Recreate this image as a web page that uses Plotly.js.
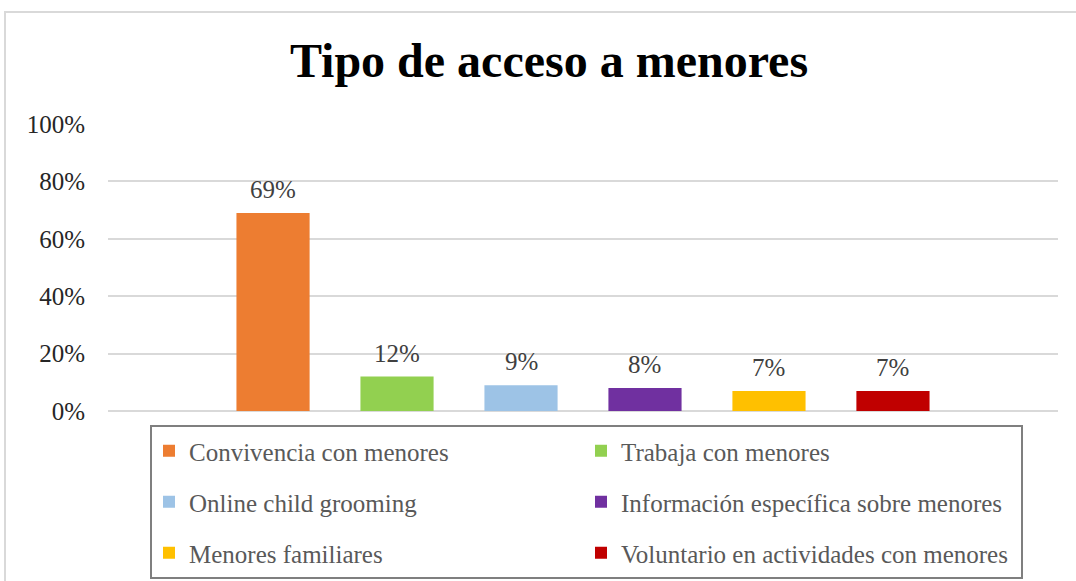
<!DOCTYPE html>
<html>
<head>
<meta charset="utf-8">
<script src="https://cdn.plot.ly/plotly-3.0.1.min.js"></script>
<style>
  body { margin: 0; overflow: hidden; background: #fff; }
  #graph { position: absolute; left: 0; top: 0; width: 1076px; height: 581px; }
  #frame { position: absolute; left: 4px; top: 11px; width: 1200px; height: 700px;
           border: 2px solid #d9d9d9; pointer-events: none; }
</style>
</head>
<body>
<div id="frame"></div>
<div id="graph"></div>
<script>
// data
var categories = [
  "Convivencia con menores",
  "Trabaja con menores",
  "Online child grooming",
  "Información específica sobre menores",
  "Menores familiares",
  "Voluntario en actividades con menores"
];
var shares = [0.69, 0.12, 0.09, 0.08, 0.07, 0.07];
var colors = ["#ED7D31", "#92D050", "#9DC3E6", "#7030A0", "#FFC000", "#C00000"];
// which legend row each series goes in (2 per row)
var legendRows = ["legend", "legend", "legend2", "legend2", "legend3", "legend3"];

var serif = "Liberation Serif, Times New Roman, serif";

var traces = [];
var notes = [];
for (var i = 0; i < categories.length; i++) {
  traces.push({
    type: "bar",
    x: [categories[i]],
    y: [shares[i]],
    name: categories[i],
    width: 0.59,
    marker: { color: colors[i] },
    legend: legendRows[i],
    hoverinfo: "none"
  });
  notes.push({
    x: categories[i],
    y: shares[i],
    text: Math.round(shares[i] * 100) + "%",
    showarrow: false,
    yanchor: "bottom",
    yshift: 8,
    font: { family: serif, size: 25, color: "#404040" }
  });
}

function legendAt(yPix) {
  return {
    orientation: "h",
    xref: "container", yref: "container",
    x: 149 / 1076, xanchor: "left",
    y: 1 - yPix / 581, yanchor: "middle",
    entrywidth: 387,
    entrywidthmode: "pixels",
    bgcolor: "rgba(0,0,0,0)",
    borderwidth: 0,
    font: { family: serif, size: 25, color: "#595959" }
  };
}

var layout = {
  width: 1076,
  height: 581,
  paper_bgcolor: "rgba(0,0,0,0)",
  plot_bgcolor: "rgba(0,0,0,0)",
  margin: { l: 108, r: 18, t: 124, b: 170 },
  title: {
    text: "<b>Tipo de acceso a menores</b>",
    xref: "container", yref: "container",
    x: 549 / 1076, xanchor: "center",
    y: 1 - 60 / 581, yanchor: "middle",
    font: { family: serif, size: 48, color: "#000000" }
  },
  barmode: "overlay",
  xaxis: {
    type: "category",
    range: [-1.331, 6.331],
    showticklabels: false,
    showgrid: false,
    zeroline: false,
    fixedrange: true
  },
  yaxis: {
    range: [0, 1],
    dtick: 0.2,
    tickformat: ".0%",
    gridcolor: "#d9d9d9",
    gridwidth: 2,
    zeroline: true,
    zerolinecolor: "#d9d9d9",
    zerolinewidth: 2,
    ticklabelstandoff: 22,
    tickfont: { family: serif, size: 25, color: "#262626" },
    fixedrange: true
  },
  showlegend: true,
  legend: legendAt(451),
  legend2: legendAt(502),
  legend3: legendAt(553),
  shapes: [{
    type: "rect",
    xref: "paper", yref: "paper",
    x0: (151 - 108) / 950, x1: (1022 - 108) / 950,
    y0: (411 - 578) / 287, y1: (411 - 426) / 287,
    line: { color: "#7f7f7f", width: 2 },
    fillcolor: "rgba(0,0,0,0)"
  }],
  annotations: notes
};

Plotly.newPlot("graph", traces, layout, { displayModeBar: false, staticPlot: true });
</script>
</body>
</html>
